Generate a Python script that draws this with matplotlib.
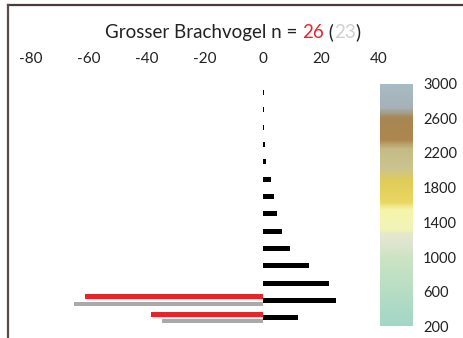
import numpy as np
import matplotlib
matplotlib.use("Agg")
import matplotlib.pyplot as plt
from matplotlib.colors import LinearSegmentedColormap
from matplotlib.transforms import IdentityTransform

plt.rcParams['font.family'] = ['Lato', 'DejaVu Sans']
plt.rcParams['axes.unicode_minus'] = False

# altitude bins (centre of each 200 m band)
altitudes = np.arange(300, 3000, 200)
# share of available area per band (%), bottom to top
area_pct = [12.0, 25.3, 22.9, 15.7, 9.3, 6.6, 4.7, 3.7, 2.6, 1.2, 0.7, 0.5, 0.5, 0.5]
# observed birds per band (%), drawn to the left
bird_alt = [300, 500]
birds_pct = [-38.5, -61.5]      # n = 26
birds_prev_pct = [-34.8, -65.2]  # n = 23

x_ticks = [-80, -60, -40, -20, 0, 20, 40]
cbar_ticks = [200, 600, 1000, 1400, 1800, 2200, 2600, 3000]

W, H = 464, 338
fig = plt.figure(figsize=(W / 100, H / 100), dpi=100)
fig.patch.set_facecolor('white')


def box(x0, x1, y0, y1):
    return [x0 / W, 1 - y1 / H, (x1 - x0) / W, (y1 - y0) / H]


# frame lines (top and left)
fig.add_artist(plt.Line2D([8 / W, 1], [1 - 5 / H, 1 - 5 / H], color='#4a3c38', lw=1.6))
fig.add_artist(plt.Line2D([8 / W, 8 / W], [0, 1 - 5 / H], color='#5a4c48', lw=1.6))

# elevation colour scale
ax_c = fig.add_axes(box(380, 412, 83.5, 326.5))
elev_cmap = LinearSegmentedColormap.from_list('elev', [
    (0.000, '#a4d6c8'),
    (0.150, '#b8dec4'),
    (0.280, '#cce4c2'),
    (0.330, '#dde4cf'),
    (0.380, '#e6e8cc'),
    (0.400, '#f2f4b8'),
    (0.480, '#f6f4aa'),
    (0.510, '#e8d862'),
    (0.600, '#e0cc58'),
    (0.650, '#cbc48e'),
    (0.730, '#c4bc86'),
    (0.770, '#ad864e'),
    (0.860, '#a88652'),
    (0.900, '#a6b2b6'),
    (1.000, '#a8bcc6'),
])
grad = np.linspace(200, 3000, 300).reshape(-1, 1)
ax_c.imshow(grad, aspect='auto', origin='lower', cmap=elev_cmap,
            extent=[0, 1, 200, 3000], vmin=200, vmax=3000)
ax_c.set_ylim(200, 3000)
ax_c.set_xticks([])
ax_c.yaxis.tick_right()
ax_c.set_yticks(cbar_ticks)
ax_c.tick_params(axis='y', length=0, pad=8, labelsize=10.5, labelcolor='#222222')
for s in ax_c.spines.values():
    s.set_visible(False)

# main bar chart
ax = fig.add_axes(box(31, 379, 84, 326.4))
ax.set_facecolor('none')
h_px = 0.0865  # pixels per metre of altitude
ax.barh(altitudes, area_pct, height=5 / h_px, color='black', zorder=3)
ax.barh(np.array(bird_alt) + 3.5 / h_px, birds_pct, height=5 / h_px,
        color='#e8242a', zorder=4)
ax.barh(np.array(bird_alt) - 3.5 / h_px, birds_prev_pct, height=3.5 / h_px,
        color='#a9a9a9', zorder=2)
ax.set_xlim(-80, 40)
ax.set_ylim(200, 3000)
ax.set_xticks(x_ticks)
ax.set_yticks([])
ax.xaxis.tick_top()
ax.tick_params(axis='x', length=0, pad=13, labelsize=11, labelcolor='#222222')
for s in ax.spines.values():
    s.set_visible(False)

# title pieces in different colours, laid out left to right in pixels
title_parts = [('Grosser Brachvogel n = ', '#222222'), ('26', '#e8242a'),
               (' (', '#222222'), ('23', '#cfcfcf'), (')', '#222222')]
fig.canvas.draw()
r = fig.canvas.get_renderer()
x_px, y_px = 105, H - 38
for txt, col in title_parts:
    t = fig.text(x_px, y_px, txt, fontsize=13.5, color=col, va='baseline',
                 transform=IdentityTransform())
    x_px = t.get_window_extent(r).x1

fig.savefig('out.png', dpi=100, facecolor='white')
